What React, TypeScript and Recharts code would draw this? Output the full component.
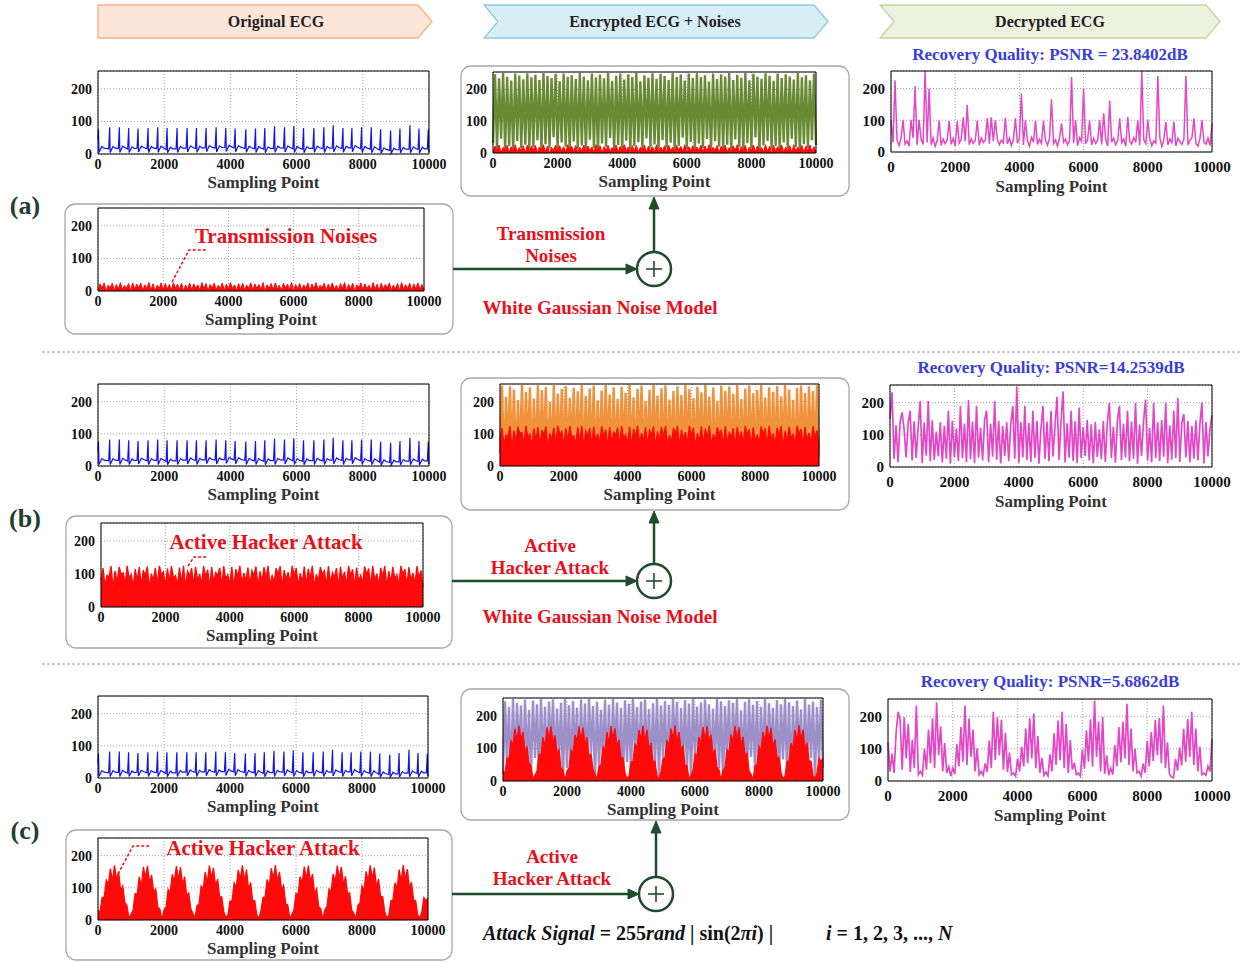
import { ComposedChart, Area, XAxis, YAxis, CartesianGrid, ReferenceArea } from "recharts";

const SERIF = '"Liberation Serif", "Times New Roman", serif';

const xTicks = [0, 2000, 4000, 6000, 8000, 10000];
const yTicks = [0, 100, 200];

// original ECG, [sampling point, value]
const ecgSamples: [number, number][] = [
  [0,45],[15,76],[30,5],[115,23],[185,18],
  [323,16],[353,82],[368,5],[453,23],[523,18],
  [615,17],[645,82],[660,5],[745,24],[815,19],
  [897,15],[927,80],[942,5],[1027,22],[1097,17],
  [1180,18],[1210,78],[1225,6],[1310,24],[1380,20],
  [1482,16],[1512,80],[1527,5],[1612,23],[1682,18],
  [1774,17],[1804,82],[1819,5],[1904,24],[1974,19],
  [2057,14],[2087,80],[2102,4],[2187,21],[2257,16],
  [2359,16],[2389,80],[2404,5],[2489,23],[2559,18],
  [2662,18],[2692,80],[2707,6],[2792,25],[2862,20],
  [2944,17],[2974,80],[2989,5],[3074,24],[3144,19],
  [3236,19],[3266,80],[3281,7],[3366,26],[3436,21],
  [3539,18],[3569,82],[3584,6],[3669,25],[3739,20],
  [3831,20],[3861,80],[3876,8],[3961,27],[4031,22],
  [4113,19],[4143,78],[4158,7],[4243,26],[4313,21],
  [4436,17],[4466,76],[4481,5],[4566,24],[4636,19],
  [4728,16],[4758,78],[4773,5],[4858,23],[4928,18],
  [5010,15],[5040,80],[5055,4],[5140,22],[5210,17],
  [5303,17],[5333,85],[5348,5],[5433,24],[5503,19],
  [5605,18],[5635,82],[5650,6],[5735,25],[5805,20],
  [5887,16],[5917,86],[5932,5],[6017,23],[6087,18],
  [6180,15],[6210,80],[6225,4],[6310,22],[6380,17],
  [6492,17],[6522,80],[6537,5],[6622,24],[6692,19],
  [6795,16],[6825,82],[6840,5],[6925,23],[6995,18],
  [7077,18],[7107,88],[7122,6],[7207,25],[7277,20],
  [7369,17],[7399,80],[7414,5],[7499,24],[7569,19],
  [7641,19],[7671,80],[7686,7],[7771,26],[7841,21],
  [7934,16],[7964,82],[7979,5],[8064,23],[8134,18],
  [8226,15],[8256,82],[8271,4],[8356,22],[8426,17],
  [8508,12],[8538,76],[8553,2],[8638,19],[8708,14],
  [8811,11],[8841,72],[8856,2],[8941,18],[9011,13],
  [9093,13],[9123,78],[9138,3],[9223,20],[9293,15],
  [9395,15],[9425,88],[9440,4],[9525,22],[9595,17],
  [9668,14],[9698,78],[9713,3],[9798,21],[9868,16],
  [9950,16],[9980,76],[9995,6],[10000,12],
];

// the series below are read at 161 evenly spaced sampling points (0..10000)
const transmissionNoise = [
  3,22,7,25,1,18,9,24,2,20,6,26,4,17,8,23,1,25,5,21,
  10,24,2,19,7,26,3,22,0,18,8,25,4,23,6,20,2,26,9,21,
  5,24,1,18,7,25,3,22,8,19,2,26,6,23,0,20,9,24,4,17,
  7,25,2,21,5,26,8,19,1,23,6,24,3,18,9,25,2,22,7,20,
  4,26,0,19,8,23,3,25,6,18,2,24,9,21,5,26,1,20,7,23,
  3,19,8,25,2,22,6,26,4,18,9,24,1,21,7,25,5,17,3,23,
  8,26,2,20,6,24,0,19,9,25,4,22,7,18,3,26,5,21,1,24,
  6,20,9,25,3,18,7,23,2,26,5,19,8,24,1,22,6,25,4,20,
  3,
];

const hackerNoise = [
  80,118,65,96,92,124,58,110,74,122,100,104,68,125,86,99,63,116,78,121,
  66,112,95,123,60,101,82,119,69,125,98,107,63,117,76,124,88,95,67,120,
  72,125,61,109,94,118,65,122,80,100,70,124,91,113,62,121,75,105,97,119,
  64,124,85,98,68,122,60,115,93,125,71,103,79,120,66,111,96,123,62,108,
  77,121,89,125,64,97,73,118,99,124,60,112,83,106,69,125,94,119,63,102,
  75,123,67,116,87,125,61,99,80,121,100,110,65,124,72,104,90,118,60,122,
  84,107,68,125,96,114,63,120,78,96,71,123,98,117,62,125,81,101,66,119,
  92,124,60,109,74,122,86,98,67,125,99,115,64,121,79,103,70,124,88,111,
  60,
];

const hackerSine = [
  30,25,70,70,124,110,160,120,170,125,150,90,106,55,46,5,18,30,82,80,
  134,105,165,130,168,115,140,85,96,40,34,1,31,40,95,85,142,120,168,125,
  164,110,135,75,84,35,20,5,44,50,105,95,150,115,169,130,162,105,127,70,
  72,25,7,15,58,60,115,100,156,125,170,120,157,95,117,60,60,15,5,28,
  70,72,126,105,161,128,171,120,150,95,108,50,47,4,17,32,83,78,135,115,
  166,125,169,118,143,82,97,42,35,1,32,42,96,88,143,118,169,130,165,108,
  136,80,85,32,21,4,45,52,106,92,151,120,170,128,163,102,128,72,73,26,
  7,14,59,62,116,98,157,122,171,126,158,98,118,62,61,16,6,25,70,60,
  70,
];

const encryptedA = [
  30,248,12,235,45,252,8,240,22,228,5,250,38,244,15,232,26,251,10,238,
  18,246,40,230,6,252,28,242,14,236,50,249,9,226,33,250,20,240,3,245,
  36,233,11,252,24,241,7,229,42,250,16,238,2,247,30,235,19,252,47,227,
  8,243,25,250,13,231,39,248,4,239,21,252,34,226,10,245,46,237,17,251,
  27,234,6,249,41,242,14,230,32,252,1,240,23,247,48,228,12,250,35,236,
  9,251,29,239,16,245,44,225,5,250,37,233,20,248,11,241,26,252,3,230,
  43,246,18,237,7,252,31,229,15,249,49,240,2,234,24,251,38,243,10,227,
  22,250,6,236,33,248,13,241,45,231,19,252,4,238,28,245,16,229,40,250,
  25,
];

const encryptedB = [
  40,250,10,215,55,248,20,238,5,205,35,252,15,230,48,244,8,210,28,251,
  12,236,50,246,3,200,30,252,18,225,42,240,6,249,25,212,58,243,14,232,
  33,252,2,218,46,241,22,250,9,204,37,235,16,252,52,222,7,245,29,209,
  19,247,44,228,4,252,31,214,13,240,56,250,23,202,38,237,11,252,47,219,
  6,242,27,251,15,207,53,233,1,248,34,221,20,252,45,239,9,211,26,246,
  50,229,14,252,36,216,3,244,24,203,43,250,17,234,57,247,8,224,32,252,
  21,208,46,241,5,250,30,226,12,236,54,252,19,213,39,245,2,231,27,249,
  10,217,48,252,16,238,35,206,22,243,7,250,41,227,13,248,51,233,25,252,
  30,
];

const encryptedC = [
  20,245,60,228,5,252,35,240,80,232,12,250,45,218,25,247,70,236,8,252,
  50,229,15,244,85,251,30,223,62,240,3,252,40,233,18,246,75,226,10,250,
  55,238,28,252,88,230,6,243,42,219,65,250,22,235,12,252,78,241,33,225,
  4,248,58,237,20,252,83,227,38,244,9,250,67,221,26,239,48,252,14,232,
  72,246,2,234,36,252,90,243,17,224,53,249,31,238,7,252,64,229,44,241,
  11,250,80,236,24,222,57,252,39,245,1,231,69,248,16,240,86,252,29,217,
  47,243,13,251,74,234,34,246,6,228,61,252,21,239,82,225,41,249,9,236,
  66,252,27,242,3,230,51,247,87,220,19,252,37,235,71,244,12,228,59,250,
  40,
];

const decryptedA = [
  100,30,226,38,20,42,101,25,35,18,101,44,208,22,101,40,24,255,30,200,
  22,44,17,36,99,20,41,26,38,97,24,43,19,97,28,40,109,34,148,23,
  42,27,36,99,21,45,30,38,107,26,109,34,100,41,23,37,29,108,25,44,
  20,39,106,28,43,184,22,100,35,18,46,31,98,24,40,27,98,37,21,42,
  166,26,38,19,44,90,30,41,23,36,236,28,100,20,45,33,200,25,39,100,
  22,43,27,37,100,24,122,40,19,162,31,44,23,36,106,29,41,18,110,34,
  25,45,30,100,21,255,38,26,100,42,20,35,28,239,44,17,39,95,23,41,
  29,95,19,43,33,24,40,239,22,37,45,106,27,18,42,100,31,25,44,20,
  90,
];

const decryptedB = [
  150,232,25,130,15,140,170,118,30,136,175,20,142,28,125,205,12,138,35,205,
  18,145,22,110,33,139,14,128,26,175,10,144,31,120,19,190,27,135,16,208,
  24,141,12,190,29,122,20,146,175,15,134,32,205,23,143,11,127,34,139,18,
  131,190,26,250,13,140,30,190,21,137,16,175,28,144,10,119,190,25,141,17,
  175,33,129,218,22,145,235,14,136,29,175,19,142,12,185,27,124,34,146,20,
  133,11,140,31,117,24,143,16,138,200,28,126,13,145,190,22,135,30,175,18,
  141,25,200,10,132,34,144,210,21,121,15,200,27,139,19,146,32,200,12,130,
  23,175,28,215,16,137,165,30,143,14,127,26,145,20,134,200,11,140,33,118,
  160,
];

const decryptedC = [
  120,30,85,25,150,215,190,35,198,70,178,28,128,40,235,20,30,18,100,35,
  160,55,195,40,245,80,170,30,118,25,45,15,40,22,114,45,168,60,235,50,
  194,75,160,30,102,20,30,18,55,28,126,40,215,65,198,80,190,35,150,28,
  88,20,25,15,70,30,106,45,163,55,195,70,210,40,140,25,72,18,28,16,
  83,30,148,50,188,65,215,40,177,25,127,35,57,20,25,15,98,38,158,60,
  192,45,250,75,185,30,200,22,80,18,40,20,112,45,168,58,184,70,240,50,
  163,30,100,25,30,15,54,25,124,45,152,62,190,80,196,55,235,40,120,22,
  12,10,69,32,105,48,162,60,193,75,215,50,163,30,107,20,25,18,46,30,
  130,
];

type Pt = { x: number; y: number };

const onGrid = (vals: number[]): Pt[] =>
  vals.map((v, i) => ({ x: (i * 10000) / (vals.length - 1), y: v }));

const ecgPts: Pt[] = ecgSamples.map(([x, y]) => ({ x, y }));
const noisePts = onGrid(transmissionNoise);
const hackerPts = onGrid(hackerNoise);
const sinePts = onGrid(hackerSine);
const encAPts = onGrid(encryptedA);
const encBPts = onGrid(encryptedB);
const encCPts = onGrid(encryptedC);
const decAPts = onGrid(decryptedA);
const decBPts = onGrid(decryptedB);
const decCPts = onGrid(decryptedC);

const BLUE = "#1414e6";
const RED = "#ff0a0a";
const MAGENTA = "#e447c6";

type Series = { pts: Pt[]; color: string; sw: number; filled?: boolean };

interface PanelProps {
  l: number;
  t: number;
  w: number;
  h: number;
  series: Series[];
  big?: boolean;
}

// every series is an Area (unfilled ones draw only their outline) so they stack in the order given
function Panel({ l, t, w, h, series, big }: PanelProps) {
  const yw = 40;
  const mr = 24;
  const mt = 4;
  const xh = big ? 46 : 40;
  const tickStyle = { fontFamily: SERIF, fontWeight: 700, fontSize: big ? 15 : 14, fill: "#111" };
  return (
    <div style={{ position: "absolute", left: l - yw, top: t - mt }}>
      <ComposedChart width={yw + w + mr} height={mt + h + xh} margin={{ top: mt, right: mr, bottom: 0, left: 0 }}>
        <CartesianGrid stroke="#a0a0a0" strokeDasharray="1 2" />
        <XAxis
          type="number"
          dataKey="x"
          domain={[0, 10000]}
          ticks={xTicks}
          interval={0}
          height={xh}
          axisLine={false}
          tickLine={false}
          tickSize={2}
          tickMargin={big ? 7 : 3}
          tick={tickStyle}
          label={{
            value: "Sampling Point",
            position: "insideBottom",
            offset: 6,
            fill: "#333",
            fontSize: 17,
            fontWeight: 700,
            fontFamily: SERIF,
          }}
        />
        <YAxis
          type="number"
          domain={[0, 255]}
          ticks={yTicks}
          interval={0}
          width={yw}
          axisLine={false}
          tickLine={false}
          tickSize={2}
          tickMargin={4}
          tick={tickStyle}
        />
        {series.map((s, i) => (
          <Area
            key={i}
            data={s.pts}
            dataKey="y"
            type="linear"
            baseValue={0}
            stroke={s.color}
            strokeWidth={s.sw}
            fill={s.filled ? s.color : "none"}
            fillOpacity={s.filled ? 1 : 0}
            dot={false}
            activeDot={false}
            isAnimationActive={false}
          />
        ))}
        <ReferenceArea x1={0} x2={10000} y1={0} y2={255} fill="none" fillOpacity={0} stroke="#000" strokeWidth={1} />
      </ComposedChart>
    </div>
  );
}

const ARROW = "#1f4d2b";
const TXT_RED = "#e8101a";
const TITLE_BLUE = "#3a3ddc";

function Adder({ cx, cy, fromX, frameBottom }: { cx: number; cy: number; fromX: number; frameBottom: number }) {
  const r = 17;
  return (
    <g stroke={ARROW} strokeWidth={2.5} fill="none">
      <line x1={fromX} y1={cy} x2={cx - r - 8} y2={cy} />
      <polygon points={`${cx - r},${cy} ${cx - r - 11},${cy - 5} ${cx - r - 11},${cy + 5}`} fill={ARROW} strokeWidth={1} />
      <circle cx={cx} cy={cy} r={r} />
      <line x1={cx - 8} y1={cy} x2={cx + 8} y2={cy} strokeWidth={1.6} />
      <line x1={cx} y1={cy - 8} x2={cx} y2={cy + 8} strokeWidth={1.6} />
      <line x1={cx} y1={cy - r} x2={cx} y2={frameBottom + 10} />
      <polygon points={`${cx},${frameBottom} ${cx - 5},${frameBottom + 12} ${cx + 5},${frameBottom + 12}`} fill={ARROW} strokeWidth={1} />
    </g>
  );
}

function RedText({ x, y, size, children }: { x: number; y: number; size: number; children: string }) {
  return (
    <text x={x} y={y} fill={TXT_RED} fontSize={size} fontWeight={700} fontFamily={SERIF} textAnchor="middle" dominantBaseline="central">
      {children}
    </text>
  );
}

function Overlay() {
  const hdr = { fontFamily: SERIF, fontWeight: 700, fontSize: 16, fill: "#222", textAnchor: "middle" as const, dominantBaseline: "central" as const };
  const frame = { fill: "none", stroke: "#a8a8a8", strokeWidth: 1.3, rx: 10 };
  const sec = { fontFamily: SERIF, fontWeight: 700, fontSize: 26, fill: "#20402c", textAnchor: "middle" as const, dominantBaseline: "central" as const };
  const title = { fontFamily: SERIF, fontWeight: 700, fontSize: 17, fill: TITLE_BLUE, textAnchor: "middle" as const, dominantBaseline: "central" as const };
  return (
    <svg width={1243} height={963} style={{ position: "absolute", left: 0, top: 0, pointerEvents: "none" }}>
      {/* header chevrons */}
      <polygon points="98,5 418,5 432,21.5 418,38 98,38" fill="#fde6d8" stroke="#f4b183" strokeWidth={1.3} />
      <polygon points="484,5 814,5 828,21.5 814,38 484,38 498,21.5" fill="#d7eef5" stroke="#8ccbdc" strokeWidth={1.3} />
      <polygon points="880,5 1206,5 1220,21.5 1206,38 880,38 894,21.5" fill="#ecf2df" stroke="#c3d69b" strokeWidth={1.3} />
      <text x={276} y={21.5} {...hdr}>Original ECG</text>
      <text x={655} y={21.5} {...hdr}>Encrypted ECG + Noises</text>
      <text x={1050} y={21.5} {...hdr}>Decrypted ECG</text>

      {/* frames */}
      <rect x={461} y={66} width={388} height={130} {...frame} />
      <rect x={65} y={204} width={388} height={130} {...frame} />
      <rect x={461} y={378} width={388} height={132} {...frame} />
      <rect x={66} y={516} width={386} height={132} {...frame} />
      <rect x={461} y={689} width={388} height={131} {...frame} />
      <rect x={66} y={830} width={386} height={130} {...frame} />

      {/* separators */}
      <line x1={42} y1={352} x2={1240} y2={352} stroke="#9a9a9a" strokeWidth={1} strokeDasharray="3 2" />
      <line x1={42} y1={664} x2={1240} y2={664} stroke="#9a9a9a" strokeWidth={1} strokeDasharray="3 2" />

      <text x={25} y={205} {...sec}>(a)</text>
      <text x={25} y={518} {...sec}>(b)</text>
      <text x={25} y={830} {...sec}>(c)</text>

      <text x={1050} y={54} {...title}>Recovery Quality: PSNR = 23.8402dB</text>
      <text x={1051} y={367} {...title}>Recovery Quality: PSNR=14.2539dB</text>
      <text x={1050} y={681} {...title}>Recovery Quality: PSNR=5.6862dB</text>

      <Adder cx={654} cy={269} fromX={453} frameBottom={197} />
      <Adder cx={654} cy={581} fromX={452} frameBottom={511} />
      <Adder cx={656} cy={894} fromX={452} frameBottom={821} />

      <RedText x={551} y={233} size={19}>Transmission</RedText>
      <RedText x={551} y={255} size={19}>Noises</RedText>
      <RedText x={600} y={307} size={19}>White Gaussian Noise Model</RedText>

      <RedText x={550} y={545} size={19}>Active</RedText>
      <RedText x={550} y={567} size={19}>Hacker Attack</RedText>
      <RedText x={600} y={616} size={19}>White Gaussian Noise Model</RedText>

      <RedText x={552} y={856} size={19}>Active</RedText>
      <RedText x={552} y={878} size={19}>Hacker Attack</RedText>

      {/* in-chart annotations */}
      <RedText x={286} y={236} size={21}>Transmission Noises</RedText>
      <polyline points="172,282 189,250 206,250" fill="none" stroke={TXT_RED} strokeWidth={1.5} strokeDasharray="3 2" />
      <RedText x={266} y={542} size={21}>Active Hacker Attack</RedText>
      <polyline points="188,566 194,557 208,557" fill="none" stroke={TXT_RED} strokeWidth={1.5} strokeDasharray="3 2" />
      <RedText x={263} y={848} size={21}>Active Hacker Attack</RedText>
      <polyline points="118,874 133,846 150,846" fill="none" stroke={TXT_RED} strokeWidth={1.5} strokeDasharray="3 2" />

      <text x={483} y={933} fontFamily={SERIF} fontWeight={700} fontSize={20} fill="#111" dominantBaseline="central">
        <tspan fontStyle="italic">Attack Signal</tspan>
        <tspan> = 255</tspan>
        <tspan fontStyle="italic">rand</tspan>
        <tspan> | sin(2</tspan>
        <tspan fontStyle="italic">πi</tspan>
        <tspan>) |</tspan>
        <tspan x={826} fontStyle="italic">i</tspan>
        <tspan> = 1,  2,  3,  ...,  </tspan>
        <tspan fontStyle="italic">N</tspan>
      </text>
    </svg>
  );
}

export default function App() {
  return (
    <div style={{ position: "absolute", left: 0, top: 0, width: 1243, height: 963, background: "#fff", overflow: "hidden" }}>
      {/* (a) */}
      <Panel l={98} t={71} w={331} h={83} series={[{ pts: ecgPts, color: BLUE, sw: 1.2 }]} />
      <Panel l={493} t={72} w={323} h={81} series={[{ pts: encAPts, color: "#6a8a35", sw: 2.4 }, { pts: noisePts, color: RED, sw: 1, filled: true }]} />
      <Panel l={891} t={71} w={321} h={81} big series={[{ pts: decAPts, color: MAGENTA, sw: 1.5 }]} />
      <Panel l={98} t={208} w={326} h={83} series={[{ pts: noisePts, color: RED, sw: 1, filled: true }]} />

      {/* (b) */}
      <Panel l={98} t={384} w={331} h={82} series={[{ pts: ecgPts, color: BLUE, sw: 1.2 }]} />
      <Panel l={500} t={384} w={319} h={82} series={[{ pts: encBPts, color: "#f0923c", sw: 2.4 }, { pts: hackerPts, color: RED, sw: 1.3, filled: true }]} />
      <Panel l={890} t={385} w={322} h={82} big series={[{ pts: decBPts, color: MAGENTA, sw: 1.7 }]} />
      <Panel l={101} t={523} w={322} h={84} series={[{ pts: hackerPts, color: RED, sw: 1.3, filled: true }]} />

      {/* (c) */}
      <Panel l={98} t={696} w={330} h={82} series={[{ pts: ecgPts, color: BLUE, sw: 1.2 }]} />
      <Panel l={503} t={698} w={320} h={83} series={[{ pts: encCPts, color: "#9d90c8", sw: 2.4 }, { pts: sinePts, color: RED, sw: 1.3, filled: true }]} />
      <Panel l={888} t={699} w={324} h={82} big series={[{ pts: decCPts, color: MAGENTA, sw: 1.7 }]} />
      <Panel l={98} t={838} w={330} h={82} series={[{ pts: sinePts, color: RED, sw: 1.3, filled: true }]} />

      <Overlay />
    </div>
  );
}
